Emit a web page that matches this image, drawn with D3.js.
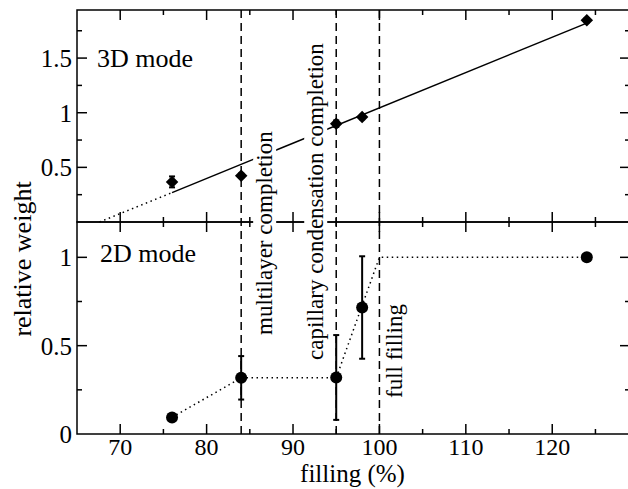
<!DOCTYPE html>
<html>
<head>
<meta charset="utf-8">
<script src="https://cdn.jsdelivr.net/npm/d3@7"></script>
<style>
  html, body { margin: 0; padding: 0; background: #fff; }
  svg { display: block; }
  text { font-family: "Liberation Serif", "Times New Roman", serif; fill: #000; }
</style>
</head>
<body>
<svg id="chart" width="628" height="489"></svg>
<script>
// ---- data ----
const fillingTicks = [70, 80, 90, 100, 110, 120];
const fillingMinorTicks = [70, 75, 80, 85, 90, 95, 100, 105, 110, 115, 120, 125];

// 3D mode (upper panel)
const filling3D = [76, 84, 95, 98, 124];
const weight3D = [0.367, 0.424, 0.90, 0.96, 1.847];
const error3D = [0.05, 0.02, 0.03, 0.02, 0.02];
const fitDashX = [67.6, 76];
const fitDashY = [0.0, 0.269];
const fitSolidX = [76, 124];
const fitSolidY = [0.269, 1.82];
const weight3DTicks = [0.5, 1, 1.5];
const weight3DMinor = [0.25, 0.5, 0.75, 1, 1.25, 1.5, 1.75];

// 2D mode (lower panel)
const filling2D = [76, 84, 95, 98, 124];
const weight2D = [0.094, 0.318, 0.32, 0.716, 1.0];
const error2D = [0, 0.123, 0.24, 0.29, 0];
const modelX = [76, 84, 95, 100, 124];
const modelY = [0.094, 0.318, 0.318, 1.0, 1.0];
const weight2DTicks = [0, 0.5, 1];
const weight2DMinor = [0.25, 0.5, 0.75, 1];

// vertical markers
const markerFilling = [84, 95, 100];
const markerLabel = ["multilayer completion", "capillary condensation completion", "full filling"];

// ---- layout ----
const padL = 77, padR = 630, padT = 10, midY = 222, padB = 434;
const svg = d3.select("#chart");

const x = d3.scaleLinear().domain([65, 129]).range([padL, padR]);
const yTop = d3.scaleLinear().domain([0, 1.94]).range([midY, padT]);
const yBot = d3.scaleLinear().domain([0, 1.2]).range([padB, midY]);

const frame = svg.append("g").attr("stroke", "#000").attr("stroke-width", 1.5).attr("fill", "none");

// panel frames
frame.append("rect").attr("x", padL).attr("y", padT).attr("width", padR - padL).attr("height", midY - padT);
frame.append("rect").attr("x", padL).attr("y", midY).attr("width", padR - padL).attr("height", padB - midY);

const major = 10, minor = 5;

// x ticks on every horizontal edge, pointing inward
function xTickRow(y0, dir) {
  fillingMinorTicks.forEach(v => {
    const len = fillingTicks.includes(v) ? major : minor;
    frame.append("line").attr("x1", x(v)).attr("x2", x(v)).attr("y1", y0).attr("y2", y0 + dir * len);
  });
}
xTickRow(padT, 1);
xTickRow(midY, -1);
xTickRow(midY, 1);
xTickRow(padB, -1);

// y ticks on both vertical edges
function yTicks(scale, minorList, majorList) {
  minorList.forEach(v => {
    const len = majorList.includes(v) ? major : minor;
    frame.append("line").attr("x1", padL).attr("x2", padL + len).attr("y1", scale(v)).attr("y2", scale(v));
    frame.append("line").attr("x1", padR).attr("x2", padR - len).attr("y1", scale(v)).attr("y2", scale(v));
  });
}
yTicks(yTop, weight3DMinor, weight3DTicks);
yTicks(yBot, weight2DMinor, weight2DTicks);

// tick labels
const tickFont = 25;
svg.append("g").selectAll("text").data(fillingTicks).join("text")
  .attr("x", d => x(d)).attr("y", padB + 21)
  .attr("text-anchor", "middle").attr("font-size", 24).text(d => d);
svg.append("g").selectAll("text").data(weight3DTicks).join("text")
  .attr("x", padL - 5).attr("y", d => yTop(d) + 9)
  .attr("text-anchor", "end").attr("font-size", tickFont).text(d => d);
svg.append("g").selectAll("text").data(weight2DTicks).join("text")
  .attr("x", padL - 5).attr("y", d => yBot(d) + 9)
  .attr("text-anchor", "end").attr("font-size", tickFont).text(d => d);

// axis titles
svg.append("text").attr("x", (padL + padR) / 2 - 1).attr("y", 482)
  .attr("text-anchor", "middle").attr("font-size", 25).text("filling (%)");
svg.append("text").attr("transform", "translate(31,259) rotate(-90)")
  .attr("text-anchor", "middle").attr("font-size", 26).text("relative weight");

// 3D fit
const line = (sy, xs, ys) => d3.line().x((d, i) => x(xs[i])).y((d, i) => sy(ys[i]))(xs);
svg.append("path").attr("d", line(yTop, fitDashX, fitDashY))
  .attr("fill", "none").attr("stroke", "#000").attr("stroke-width", 1.5).attr("stroke-dasharray", "1.5,3.5");
svg.append("path").attr("d", line(yTop, fitSolidX, fitSolidY))
  .attr("fill", "none").attr("stroke", "#000").attr("stroke-width", 1.5);

// 2D model curve
svg.append("path").attr("d", line(yBot, modelX, modelY))
  .attr("fill", "none").attr("stroke", "#000").attr("stroke-width", 1.5).attr("stroke-dasharray", "1.5,3.5");

// marker labels on a white backing
const labelDx = [31, -13, 23];
const labelY = [335, 360, 398];
markerFilling.forEach((f, i) => {
  const g = svg.append("g").attr("transform", `translate(${x(f) + labelDx[i]},${labelY[i]}) rotate(-90)`);
  const bg = g.append("rect").attr("fill", "#fff");
  const t = g.append("text").attr("font-size", 23).text(markerLabel[i]);
  const b = t.node().getBBox();
  bg.attr("x", b.x - 2).attr("y", b.y + 1).attr("width", b.width + 4).attr("height", b.height - 2);
});

// vertical dashed markers
svg.append("g").selectAll("line").data(markerFilling).join("line")
  .attr("x1", d => x(d)).attr("x2", d => x(d)).attr("y1", padT).attr("y2", padB)
  .attr("stroke", "#000").attr("stroke-width", 1.5).attr("stroke-dasharray", "8,5");

// error bars
function errorBars(xs, ys, es, scale) {
  const g = svg.append("g").attr("stroke", "#000").attr("stroke-width", 2);
  xs.forEach((f, i) => {
    if (!es[i]) return;
    const cx = x(f), y1 = scale(ys[i] - es[i]), y2 = scale(ys[i] + es[i]);
    g.append("line").attr("x1", cx).attr("x2", cx).attr("y1", y1).attr("y2", y2);
    g.append("line").attr("x1", cx - 3).attr("x2", cx + 3).attr("y1", y1).attr("y2", y1);
    g.append("line").attr("x1", cx - 3).attr("x2", cx + 3).attr("y1", y2).attr("y2", y2);
  });
}
errorBars(filling3D, weight3D, error3D, yTop);
errorBars(filling2D, weight2D, error2D, yBot);

// markers
svg.append("g").selectAll("path").data(filling3D).join("path")
  .attr("transform", (d, i) => `translate(${x(d)},${yTop(weight3D[i])})`)
  .attr("d", d3.symbol(d3.symbolDiamond2, 100)).attr("fill", "#000");
svg.append("g").selectAll("circle").data(filling2D).join("circle")
  .attr("cx", d => x(d)).attr("cy", (d, i) => yBot(weight2D[i])).attr("r", 6).attr("fill", "#000");

// panel labels
svg.append("text").attr("x", 97).attr("y", 67).attr("font-size", 26).text("3D mode");
svg.append("text").attr("x", 100).attr("y", 262).attr("font-size", 26).text("2D mode");
</script>
</body>
</html>
